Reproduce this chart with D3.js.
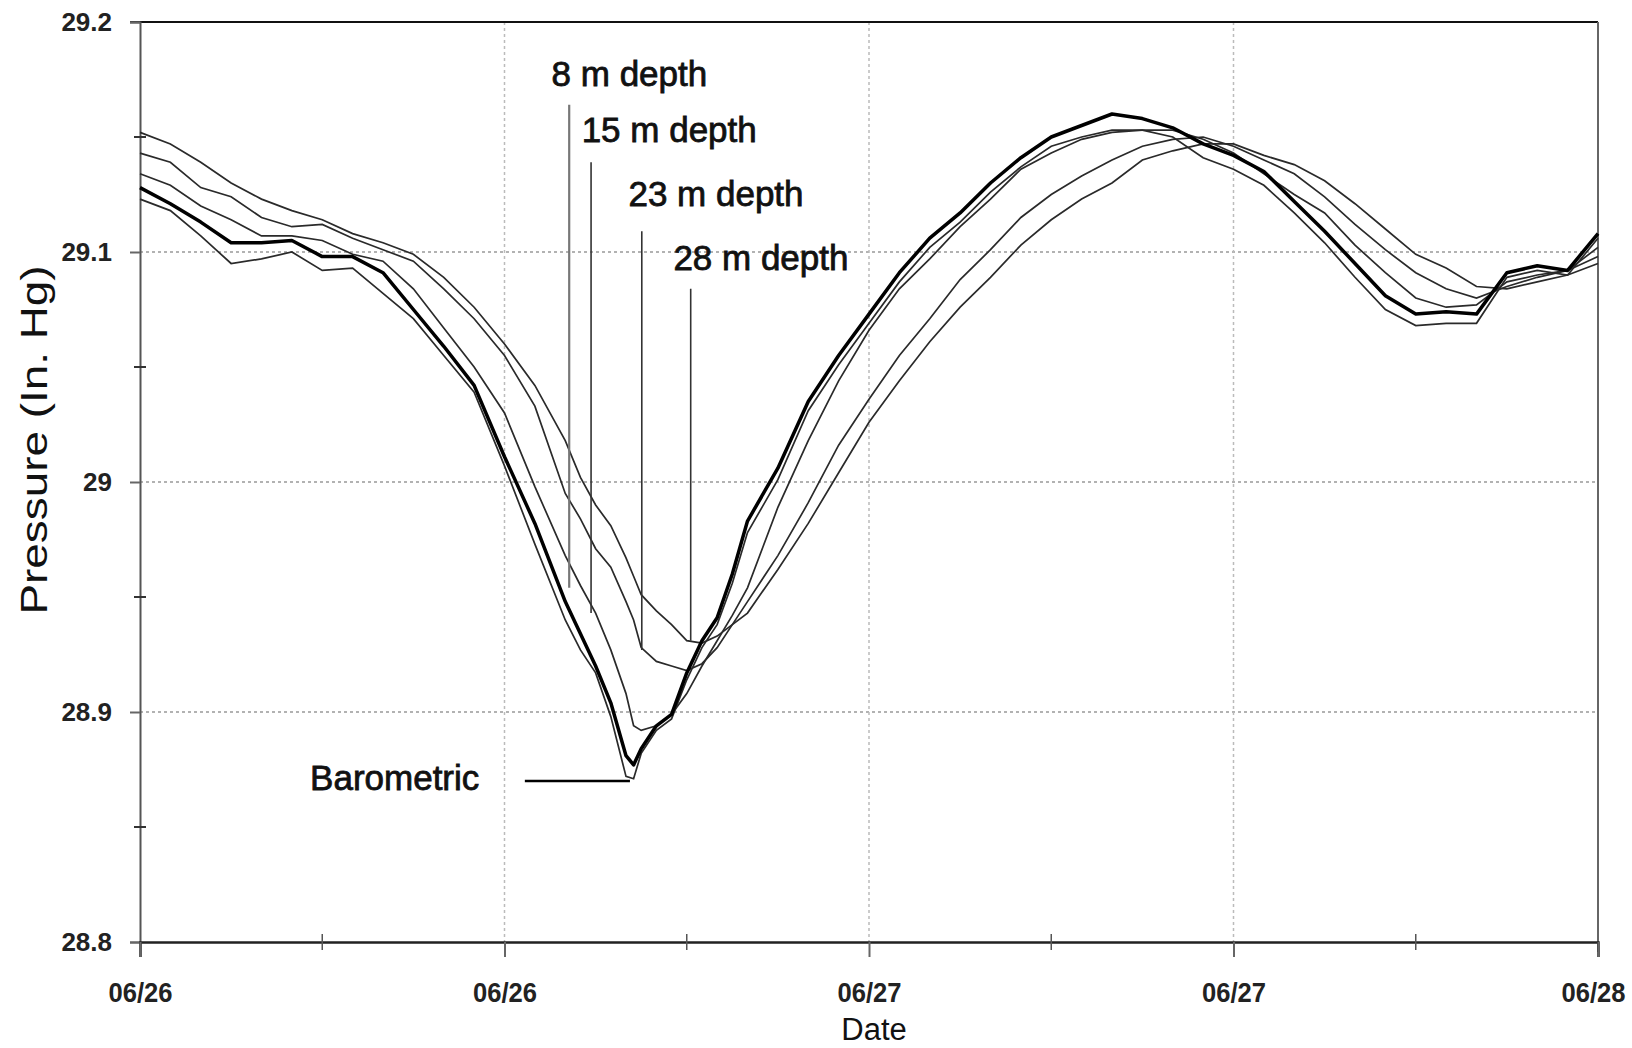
<!DOCTYPE html>
<html>
<head>
<meta charset="utf-8">
<script src="https://cdn.jsdelivr.net/npm/d3@7"></script>
<style>
  body { margin: 0; background: #fff; }
  svg { display: block; font-family: "Liberation Sans", Arial, sans-serif; }
  .grid line { stroke: #999; stroke-width: 1.5; stroke-dasharray: 3,3; }
</style>
</head>
<body>
<svg id="chart" width="1632" height="1048"></svg>
<script>
// time in hours since 06/26 00:00
var hours = [0,1,2,3,4,5,6,7,8,9,10,11,12,13,
  14,14.5,15,15.5,16,16.25,16.5,17,17.5,18,18.5,19,19.5,20,
  21,22,23,24,25,26,27,28,29,30,31,32,33,34,35,36,37,38,39,40,41,42,43,44,45,46,47,48];

// pressure, in. Hg
var barometric = [29.128,29.121,29.113,29.104,29.104,29.105,29.098,29.098,29.091,29.075,29.059,29.042,29.011,28.982,
  28.948,28.934,28.920,28.904,28.881,28.877,28.884,28.894,28.899,28.917,28.931,28.941,28.960,28.983,
  29.006,29.035,29.055,29.073,29.091,29.106,29.117,29.130,29.141,29.150,29.155,29.160,29.158,29.154,
  29.147,29.142,29.135,29.122,29.109,29.095,29.081,29.073,29.074,29.073,29.091,29.094,29.092,29.108];
var depth8 = [29.123,29.118,29.107,29.095,29.097,29.100,29.092,29.093,29.082,29.071,29.055,29.039,29.007,28.973,
  28.940,28.927,28.917,28.898,28.872,28.871,28.882,28.892,28.897,28.914,28.928,28.938,28.956,28.978,
  29.001,29.031,29.051,29.069,29.087,29.102,29.113,29.126,29.137,29.146,29.150,29.153,29.153,29.150,
  29.141,29.136,29.129,29.117,29.104,29.089,29.075,29.068,29.069,29.069,29.089,29.092,29.090,29.106];
var depth15 = [29.134,29.129,29.120,29.114,29.107,29.107,29.105,29.099,29.096,29.084,29.067,29.050,29.030,28.998,
  28.968,28.955,28.943,28.927,28.908,28.894,28.892,28.894,28.899,28.908,28.920,28.931,28.942,28.954,
  28.989,29.018,29.044,29.066,29.084,29.097,29.111,29.123,29.136,29.143,29.149,29.152,29.153,29.153,
  29.149,29.143,29.134,29.125,29.117,29.103,29.091,29.080,29.076,29.077,29.087,29.090,29.092,29.102];
var depth23 = [29.143,29.139,29.128,29.124,29.115,29.111,29.112,29.106,29.101,29.096,29.084,29.071,29.055,29.033,
  28.995,28.984,28.971,28.963,28.948,28.940,28.928,28.922,28.920,28.918,28.921,28.928,28.938,28.948,
  28.968,28.991,29.016,29.036,29.055,29.071,29.088,29.101,29.115,29.125,29.133,29.140,29.146,29.149,
  29.150,29.146,29.140,29.134,29.124,29.112,29.101,29.091,29.084,29.080,29.085,29.089,29.092,29.098];
var depth28 = [29.152,29.147,29.139,29.130,29.123,29.118,29.114,29.108,29.104,29.099,29.089,29.076,29.060,29.042,
  29.018,29.002,28.990,28.981,28.967,28.959,28.951,28.944,28.938,28.931,28.930,28.933,28.938,28.943,
  28.962,28.982,29.004,29.026,29.044,29.061,29.076,29.089,29.103,29.114,29.123,29.130,29.140,29.144,
  29.147,29.147,29.142,29.138,29.131,29.121,29.110,29.099,29.093,29.085,29.084,29.087,29.090,29.095];

var xTicks = [0, 12, 24, 36, 48];
var xTickLabels = ["06/26", "06/26", "06/27", "06/27", "06/28"];
var xMinorTicks = [6, 18, 30, 42];
var yTicks = [28.8, 28.9, 29.0, 29.1, 29.2];
var yTickLabels = ["28.8", "28.9", "29", "29.1", "29.2"];
var yMinorTicks = [28.85, 28.95, 29.05, 29.15];

// depth labels with their pointer lines
var depthNames = ["8 m depth", "15 m depth", "23 m depth", "28 m depth"];
var labelHours = [13.55, 14.54, 16.08, 17.56];
var labelValues = [29.172, 29.148, 29.120, 29.092];
var pointerHours = [14.13, 14.85, 16.52, 18.13];
var pointerTop = [29.164, 29.139, 29.109, 29.084];
var pointerBottom = [28.954, 28.943, 28.927, 28.931];
var pointerColors = ["#777", "#333", "#333", "#333"];
// barometric label and its pointer
var baroLabel = {text: "Barometric", h: 5.6, v: 28.866};
var baroPointer = {h0: 12.67, h1: 16.13, v: 28.870};

var margin = {top: 22, right: 34, bottom: 106, left: 140};
var width = 1632 - margin.left - margin.right,
    height = 1048 - margin.top - margin.bottom;

var svg = d3.select("#chart");
var g = svg.append("g")
    .attr("transform", "translate(" + margin.left + "," + margin.top + ")");

var x = d3.scaleLinear().domain([0, 48]).range([0, width]);
var y = d3.scaleLinear().domain([28.8, 29.2]).range([height, 0]);

// grid
g.append("g").attr("class", "grid")
  .selectAll("line").data([28.9, 29.0, 29.1]).enter().append("line")
    .attr("x1", 0).attr("x2", width)
    .attr("y1", function(d) { return y(d); }).attr("y2", function(d) { return y(d); });
g.append("g").attr("class", "grid")
  .selectAll("line").data([12, 24, 36]).enter().append("line")
    .attr("y1", 0).attr("y2", height)
    .attr("x1", function(d) { return x(d); }).attr("x2", function(d) { return x(d); })
    .style("stroke", "#bbb");

// frame top / right
g.append("line").attr("x1", -10).attr("x2", width).attr("y1", 0).attr("y2", 0)
  .attr("stroke", "#111").attr("stroke-width", 2);
g.append("line").attr("x1", width).attr("x2", width).attr("y1", 0).attr("y2", height + 10)
  .attr("stroke", "#666").attr("stroke-width", 2);

// axes
var yAxis = d3.axisLeft(y).tickValues(yTicks)
    .tickFormat(function(d, i) { return yTickLabels[i]; })
    .tickSize(10).tickPadding(18);
var ya = g.append("g").call(yAxis);
ya.select(".domain").attr("stroke", "#555").attr("stroke-width", 2);
ya.selectAll(".tick line").attr("stroke", "#666").attr("stroke-width", 2);
ya.selectAll("text").attr("font-size", 26).attr("font-weight", "bold").attr("fill", "#222")
  .attr("font-family", "Liberation Sans, Arial, sans-serif");

var xAxis = d3.axisBottom(x).tickValues(xTicks)
    .tickFormat(function(d, i) { return xTickLabels[i]; })
    .tickSize(15).tickPadding(25);
var xa = g.append("g").attr("transform", "translate(0," + height + ")").call(xAxis);
xa.select(".domain").attr("stroke", "#222").attr("stroke-width", 2.5);
xa.selectAll(".tick line").attr("stroke", "#666").attr("stroke-width", 2);
xa.selectAll("text").attr("font-size", 28).attr("font-weight", "bold").attr("fill", "#222")
  .attr("font-family", "Liberation Sans, Arial, sans-serif")
  .attr("textLength", 64).attr("lengthAdjust", "spacingAndGlyphs")
  .attr("dx", function(d, i) { return i === xTicks.length - 1 ? -5 : 0; });

// minor ticks
g.selectAll(".xminor").data(xMinorTicks).enter().append("line")
  .attr("x1", function(d) { return x(d); }).attr("x2", function(d) { return x(d); })
  .attr("y1", height - 8).attr("y2", height + 8)
  .attr("stroke", "#555").attr("stroke-width", 1.5);
g.selectAll(".yminor").data(yMinorTicks).enter().append("line")
  .attr("y1", function(d) { return y(d); }).attr("y2", function(d) { return y(d); })
  .attr("x1", -6).attr("x2", 6)
  .attr("stroke", "#333").attr("stroke-width", 2);

// axis titles
svg.append("text")
  .attr("transform", "translate(47,440) rotate(-90)")
  .attr("text-anchor", "middle")
  .attr("font-size", 36)
  .attr("textLength", 349).attr("lengthAdjust", "spacingAndGlyphs")
  .attr("fill", "#111")
  .text("Pressure (In. Hg)");
svg.append("text")
  .attr("x", margin.left + width / 2 + 5).attr("y", 1040)
  .attr("text-anchor", "middle")
  .attr("font-size", 31).attr("fill", "#111")
  .text("Date");

// series
var line = d3.line()
    .x(function(d, i) { return x(hours[i]); })
    .y(function(d) { return y(d); });

var thin = [depth28, depth23, depth15, depth8];
g.selectAll(".thin").data(thin).enter().append("path")
  .attr("class", "thin")
  .attr("d", line)
  .attr("fill", "none")
  .attr("stroke", "#2a2a2a")
  .attr("stroke-width", 1.7);

g.append("path").datum(barometric)
  .attr("d", line)
  .attr("fill", "none")
  .attr("stroke", "#000")
  .attr("stroke-width", 3.5)
  .attr("stroke-linejoin", "round");

// pointer lines and labels
g.selectAll(".pointer").data(depthNames).enter().append("line")
  .attr("x1", function(d, i) { return x(pointerHours[i]); })
  .attr("x2", function(d, i) { return x(pointerHours[i]); })
  .attr("y1", function(d, i) { return y(pointerTop[i]); })
  .attr("y2", function(d, i) { return y(pointerBottom[i]); })
  .attr("stroke", function(d, i) { return pointerColors[i]; })
  .attr("stroke-width", function(d, i) { return i === 0 ? 2.2 : 1.6; });

g.selectAll(".dlabel").data(depthNames).enter().append("text")
  .attr("x", function(d, i) { return x(labelHours[i]); })
  .attr("y", function(d, i) { return y(labelValues[i]); })
  .attr("font-size", 35).attr("fill", "#111")
  .attr("stroke", "#111").attr("stroke-width", 0.8)
  .text(function(d) { return d; });

g.append("line")
  .attr("x1", x(baroPointer.h0)).attr("x2", x(baroPointer.h1))
  .attr("y1", y(baroPointer.v)).attr("y2", y(baroPointer.v))
  .attr("stroke", "#000").attr("stroke-width", 2.5);
g.append("text")
  .attr("x", x(baroLabel.h)).attr("y", y(baroLabel.v))
  .attr("font-size", 35).attr("fill", "#111")
  .attr("stroke", "#111").attr("stroke-width", 0.8)
  .text(baroLabel.text);
</script>
</body>
</html>
